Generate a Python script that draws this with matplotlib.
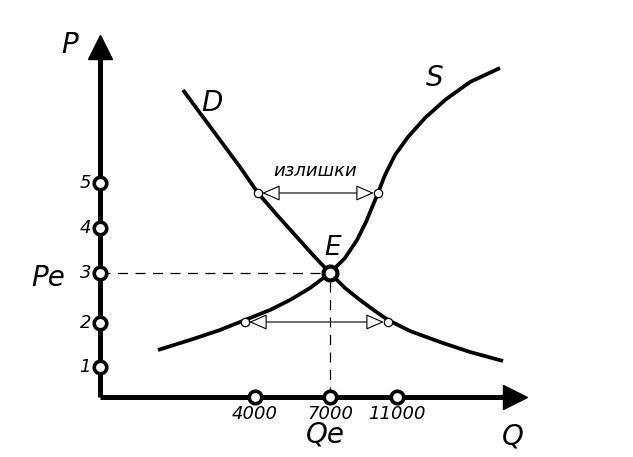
import matplotlib
matplotlib.use("Agg")
import matplotlib.pyplot as plt

# положения меток на осях (условные единицы рисунка)
p_pos = [30, 74, 124, 169, 214]
p_labels = ["1", "2", "3", "4", "5"]
q_pos = [155, 230, 297]
q_labels = ["4000", "7000", "11000"]

# кривая спроса D
d_x = [83, 100, 120, 140, 158, 177, 195, 213, 230, 245, 260, 275, 288, 310, 340, 370, 403]
d_y = [307, 284, 257, 230, 204, 182, 162, 142, 124, 109, 97, 86, 77, 66, 55, 45, 36]

# кривая предложения S
s_x = [58, 90, 120, 145, 170, 190, 210, 230, 245, 257, 266, 273, 278, 285, 295, 308, 325, 345, 370, 400]
s_y = [47, 57, 67, 77, 87, 97, 109, 124, 139, 157, 175, 192, 204, 222, 242, 260, 279, 297, 315, 329]

# равновесие
qe, pe = 230, 124

# излишки / дефицит
top_y, top_x1, top_x2 = 204, 158, 278
bot_y, bot_x1, bot_x2 = 75, 145, 288

fig = plt.figure(figsize=(6.33, 4.57), dpi=100)
ax = fig.add_axes([0, 0, 1, 1])
ax.set_xlim(-100, 533)
ax.set_ylim(-60, 397)
ax.axis("off")

# оси
ax.plot([0, 0], [0, 345], color="black", lw=3.6, solid_capstyle="butt")
ax.plot([0, 410], [0, 0], color="black", lw=3.6, solid_capstyle="butt")
ax.plot([0], [350], marker="^", ms=17, color="black")
ax.plot([415], [0], marker=">", ms=17, color="black")

# пунктир
ax.plot([0, qe], [pe, pe], color="black", lw=0.9, dashes=(8, 6))
ax.plot([qe, qe], [0, pe], color="black", lw=0.9, dashes=(8, 6))

# кривые
ax.plot(d_x, d_y, color="black", lw=2.7, solid_capstyle="butt", solid_joinstyle="round")
ax.plot(s_x, s_y, color="black", lw=2.7, solid_capstyle="butt", solid_joinstyle="round")

# стрелки
for y, x1, x2 in [(top_y, top_x1, top_x2), (bot_y, bot_x1, bot_x2)]:
    ax.annotate("", xy=(x1, y), xytext=(x2, y),
                arrowprops=dict(arrowstyle="<|-|>,head_length=0.8,head_width=0.35",
                                mutation_scale=14,
                                fc="white", ec="black", lw=0.8,
                                shrinkA=3, shrinkB=3))
    ax.plot([x1, x2], [y, y], "o", ms=6, mfc="white", mec="black", mew=0.9)

# точка равновесия
ax.plot([qe], [pe], "o", ms=10, mfc="white", mec="black", mew=3)

# метки на осях
ax.plot([0] * len(p_pos), p_pos, "o", ms=9, mfc="white", mec="black", mew=2.6)
ax.plot(q_pos, [0] * len(q_pos), "o", ms=9, mfc="white", mec="black", mew=2.6)
for y, t in zip(p_pos, p_labels):
    ax.text(-9, y, t, ha="right", va="center", fontsize=13, style="italic")
for x, t in zip(q_pos, q_labels):
    ax.text(x, -17, t, ha="center", va="center", fontsize=13, style="italic")

# подписи
ax.text(-30, 352, "P", fontsize=20, style="italic", ha="center", va="center")
ax.text(-52, 119, "Pe", fontsize=20, style="italic", ha="center", va="center")
ax.text(225, -38, "Qe", fontsize=20, style="italic", ha="center", va="center")
ax.text(413, -40, "Q", fontsize=20, style="italic", ha="center", va="center")
ax.text(112, 294, "D", fontsize=20, style="italic", ha="center", va="center")
ax.text(335, 319, "S", fontsize=20, style="italic", ha="center", va="center")
ax.text(233, 149, "E", fontsize=19, style="italic", ha="center", va="center")
ax.text(215, 226, "излишки", fontsize=13, style="italic", ha="center", va="center")

fig.savefig("out.png", dpi=100)
